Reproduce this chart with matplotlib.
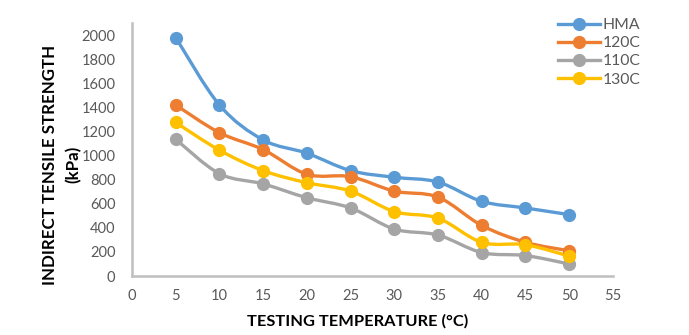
import numpy as np
import matplotlib
matplotlib.use("Agg")
import matplotlib.pyplot as plt
from matplotlib.path import Path
from matplotlib.patches import PathPatch
from matplotlib.lines import Line2D

# testing temperature (C)
temps = [5, 10, 15, 20, 25, 30, 35, 40, 45, 50]

# indirect tensile strength (kPa)
hma = [1980, 1420, 1130, 1020, 875, 820, 780, 620, 565, 510]
c120 = [1420, 1190, 1050, 845, 825, 705, 655, 420, 280, 210]
c110 = [1135, 850, 765, 650, 565, 390, 340, 195, 170, 100]
c130 = [1275, 1045, 875, 775, 705, 535, 480, 280, 260, 165]

series = [("HMA", hma, "#5B9BD5"),
          ("120C", c120, "#ED7D31"),
          ("110C", c110, "#A5A5A5"),
          ("130C", c130, "#FFC000")]

x_ticks = list(range(0, 60, 5))
y_ticks = list(range(0, 2200, 200))

plt.rcParams['font.family'] = ['Lato', 'DejaVu Sans']


def smooth_path(xs, ys, t=1/6):
    # excel style smoothed line: bezier segments through the data points
    pts = np.column_stack([xs, ys]).astype(float)
    verts = [pts[0]]
    codes = [Path.MOVETO]
    n = len(pts)
    for i in range(n - 1):
        p0 = pts[i - 1] if i > 0 else pts[i]
        p1 = pts[i]
        p2 = pts[i + 1]
        p3 = pts[i + 2] if i + 2 < n else pts[i + 1]
        c1 = p1 + (p2 - p0) * t
        c2 = p2 - (p3 - p1) * t
        verts += [c1, c2, p2]
        codes += [Path.CURVE4] * 3
    return Path(verts, codes)


fig = plt.figure(figsize=(6.89, 3.35), dpi=100)
ax = fig.add_axes([0.1916, 0.176, 0.698, 0.755])

# smoothing works in display-like units, so scale y to x range first
sy = 55 / 2100 * (253 / 481)
for name, vals, col in series:
    p = smooth_path(np.array(temps), np.array(vals) * sy)
    v = p.vertices.copy()
    v[:, 1] = v[:, 1] / sy
    patch = PathPatch(Path(v, p.codes), facecolor="none", edgecolor=col,
                      lw=2.4, transform=ax.transData, zorder=2)
    ax.add_patch(patch)
    ax.plot(temps, vals, "o", color=col, ms=8.5, zorder=3)

ax.set_xlim(0, 55)
ax.set_ylim(0, 2100)
ax.set_xticks(x_ticks)
ax.set_yticks([y for y in y_ticks if y <= 2000])
ax.tick_params(length=0, labelsize=10.5, colors="#595959", pad=12)
ax.tick_params(axis="x", pad=9)
for s in ("top", "right"):
    ax.spines[s].set_visible(False)
for s in ("left", "bottom"):
    ax.spines[s].set_color("#BFBFBF")
    ax.spines[s].set_linewidth(1.8)

ax.set_xlabel("TESTING TEMPERATURE (°C)", fontsize=11.8, fontweight="bold",
              color="#000000")
ax.xaxis.set_label_coords(0.47, -0.152)
ax.set_ylabel("INDIRECT TENSILE STRENGTH\n(kPa)", fontsize=12.2,
              fontweight="bold", color="#000000", linespacing=1.55)
ax.yaxis.set_label_coords(-0.104, 0.44)

handles = [Line2D([], [], color=col, lw=2.4, marker="o", ms=8.5)
           for _, _, col in series]
leg = ax.legend(handles, [s[0] for s in series], loc="upper left",
                bbox_to_anchor=(0.872, 1.045), frameon=False, fontsize=11.3,
                handlelength=2.7, handletextpad=0.15, labelspacing=0.27,
                borderaxespad=0)
for t in leg.get_texts():
    t.set_color("#595959")

fig.savefig("out.png", dpi=100)
